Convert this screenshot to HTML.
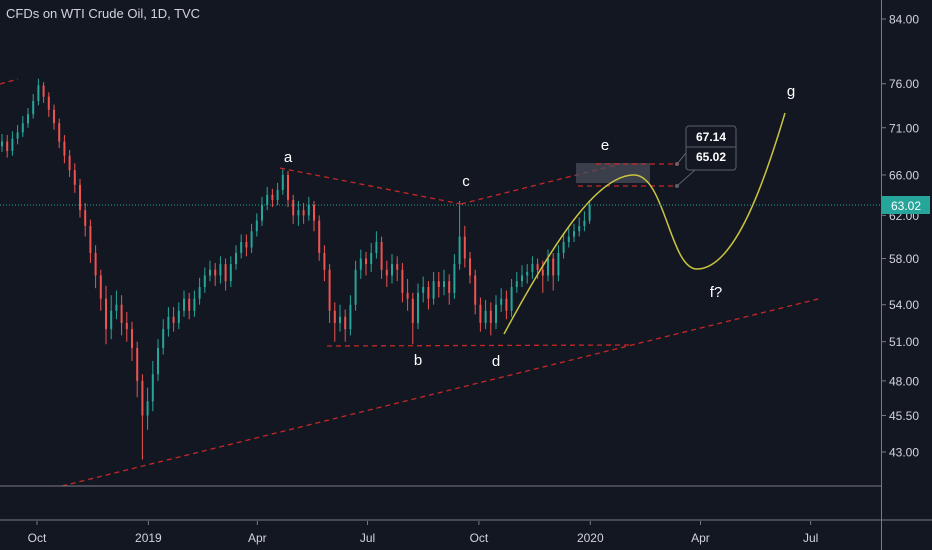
<!DOCTYPE html>
<html><head><meta charset="utf-8"><style>
html,body{margin:0;padding:0;background:#131722;}
svg{display:block;font-family:"Liberation Sans",sans-serif;}
</style></head><body>
<svg id="chart" width="932" height="550" viewBox="0 0 932 550">
<rect x="0" y="0" width="932" height="550" fill="#131722"/>
<g id="candles"></g>
<g id="drawings">
 <line x1="0" y1="84" x2="18" y2="79" stroke="#c62828" stroke-width="1.3" stroke-dasharray="5,4"/>
 <line x1="280" y1="168" x2="461" y2="204" stroke="#c62828" stroke-width="1.3" stroke-dasharray="5,4"/>
 <line x1="461" y1="204" x2="620" y2="164" stroke="#c62828" stroke-width="1.3" stroke-dasharray="5,4"/>
 <line x1="327" y1="346" x2="630" y2="345" stroke="#c62828" stroke-width="1.3" stroke-dasharray="5,4"/>
 <line x1="62" y1="486" x2="822" y2="298" stroke="#c62828" stroke-width="1.3" stroke-dasharray="5,4"/>
 <rect x="576" y="163" width="74" height="20" fill="#4a4e5a" opacity="0.75"/>
 <line x1="596" y1="164" x2="677" y2="164" stroke="#c62828" stroke-width="1.3" stroke-dasharray="5,4"/>
 <line x1="578" y1="186" x2="677" y2="186" stroke="#c62828" stroke-width="1.3" stroke-dasharray="5,4"/>
 <path d="M504,334 C560,230 600,175 634,175 C665,175 670,269 697,269 C735,269 765,180 785,113" fill="none" stroke="#c9c43f" stroke-width="1.5"/>
 <line x1="677" y1="164" x2="690" y2="148" stroke="#5d606b" stroke-width="1"/>
 <line x1="677" y1="186" x2="695" y2="170" stroke="#5d606b" stroke-width="1"/>
 <circle cx="677" cy="164" r="2" fill="#7a5a5a"/>
 <circle cx="677" cy="186" r="2" fill="#5d606b"/>
 <rect x="686" y="126" width="50" height="44" rx="3" fill="#131722" stroke="#5d606b"/>
 <line x1="686" y1="147" x2="736" y2="147" stroke="#5d606b"/>
 <text x="711" y="141" fill="#fff" font-size="12" font-weight="bold" text-anchor="middle">67.14</text>
 <text x="711" y="161" fill="#fff" font-size="12" font-weight="bold" text-anchor="middle">65.02</text>
 <g fill="#fff" font-size="15" text-anchor="middle">
  <text x="288" y="162">a</text>
  <text x="418" y="365">b</text>
  <text x="466" y="186">c</text>
  <text x="496" y="366">d</text>
  <text x="605" y="150">e</text>
  <text x="716" y="297">f?</text>
  <text x="791" y="96">g</text>
 </g>
</g>
<line x1="0" y1="205" x2="881" y2="205" stroke="#26a69a" stroke-width="1" stroke-dasharray="1,2"/>
<line x1="0" y1="486" x2="881" y2="486" stroke="#787b86" stroke-width="1"/>
<line x1="0" y1="520" x2="932" y2="520" stroke="#787b86" stroke-width="1"/>
<line x1="881.5" y1="0" x2="881.5" y2="550" stroke="#787b86" stroke-width="1"/>
<g id="yaxis"></g>
<g id="xaxis"></g>
<rect x="882" y="196" width="48" height="18" fill="#26a69a"/>
<text x="906" y="210" fill="#fff" font-size="12" text-anchor="middle">63.02</text>
<text x="6" y="18" fill="#d1d4dc" font-size="13">CFDs on WTI Crude Oil, 1D, TVC</text>
</svg>
<script>
const firstOpen = 69.0;
const closes = [69.5,68.5,69.8,70.5,71.5,72.5,74.0,75.8,74.5,73.0,71.5,69.5,68.0,66.5,65.0,62.5,61.0,58.5,56.5,54.5,52.0,53.5,54.0,52.5,52.0,50.5,48.0,45.5,46.5,48.5,50.5,52.0,53.0,52.5,53.5,54.5,53.5,54.5,55.5,56.5,57.0,56.5,57.5,56.0,57.5,58.5,59.5,59.0,60.5,61.5,63.0,64.0,63.5,64.5,66.0,63.5,62.0,62.5,62.0,63.0,61.5,58.5,57.0,53.5,52.5,53.0,52.0,54.0,57.0,58.0,57.5,58.5,59.5,57.0,56.5,57.5,57.0,55.0,54.5,52.5,55.0,55.5,54.5,56.0,55.5,56.0,55.0,57.5,60.0,58.0,56.5,54.0,52.5,53.5,52.5,54.0,54.5,53.5,55.5,56.0,56.5,56.8,57.5,57.0,56.5,58.0,56.5,58.5,59.5,60.0,60.5,61.0,61.5,63.0];
const highs = [70.3,70.2,70.6,71.3,72.3,73.2,74.8,76.6,76.2,75.0,73.6,72.0,70.2,68.6,67.2,65.6,63.2,61.6,59.2,57.0,55.6,54.8,55.2,54.8,53.4,52.6,51.0,48.5,47.5,49.5,51.2,52.8,53.8,53.8,54.2,55.2,55.0,55.2,56.3,57.2,57.8,57.6,58.2,58.0,58.2,59.2,60.2,60.2,61.2,62.2,63.8,64.8,64.6,65.2,66.6,66.4,64.0,63.4,63.2,63.8,63.4,62.0,59.2,57.5,54.2,54.0,53.6,54.8,57.8,58.8,58.6,59.4,60.5,60.0,57.8,58.4,58.2,57.6,56.2,55.0,55.8,56.4,56.0,56.8,56.8,57.0,56.6,58.4,63.4,61.0,58.6,57.0,54.6,54.4,54.2,54.8,55.4,55.2,56.2,56.8,57.4,57.5,58.2,58.0,57.8,58.8,58.5,59.2,60.2,60.8,61.2,61.8,62.4,63.5];
const lows = [68.4,67.8,68.0,69.2,70.0,71.0,72.0,73.5,73.8,72.2,70.8,68.8,67.2,65.8,64.2,61.8,60.0,57.6,55.4,53.5,50.8,51.2,52.8,51.5,51.0,49.5,46.8,42.5,44.5,45.8,48.0,50.0,51.4,51.8,52.0,53.0,52.8,53.0,54.0,55.0,56.0,55.6,55.8,55.2,55.5,57.0,58.0,58.2,58.5,60.0,61.0,62.5,62.8,63.0,64.0,62.8,61.2,61.0,61.2,61.5,60.5,57.8,56.0,52.5,51.0,51.8,51.0,51.5,53.5,56.2,56.5,56.8,58.0,56.2,55.5,55.8,56.0,54.2,53.5,50.8,52.0,54.2,53.6,54.0,54.6,54.8,54.0,54.5,57.0,57.2,55.8,53.2,51.8,52.0,51.5,52.0,53.4,52.8,53.0,55.0,55.5,55.8,56.2,56.2,55.0,56.0,55.2,56.0,58.0,59.0,59.5,60.0,60.5,61.2];
const priceTicks = [84,76,71,66,62,58,54,51,48,45.5,43];
const timeLabels = ["Oct","2019","Apr","Jul","Oct","2020","Apr","Jul"];
const timeDays = [0,92,182,273,365,457,548,639];

const NS = "http://www.w3.org/2000/svg";
function yScale(p){ return 2884 - 646.6*Math.log(p); }
function xBar(i){ return 1 + i*5.2; }
function xDay(d){ return 37 + d*1.2107; }

const cg = document.getElementById('candles');
for(let i=0;i<closes.length;i++){
  const o = i===0 ? firstOpen : closes[i-1];
  const c = closes[i];
  const col = c>=o ? '#26a69a' : '#ef5350';
  const x = xBar(i);
  const wick = document.createElementNS(NS,'line');
  
  
  wick.setAttribute('x1', x+1); wick.setAttribute('x2', x+1);
  wick.setAttribute('y1', yScale(highs[i])); wick.setAttribute('y2', yScale(lows[i]));
  wick.setAttribute('stroke', col); wick.setAttribute('stroke-width','1');
  cg.appendChild(wick);
  const body = document.createElementNS(NS,'rect');
  
  
  const y1 = yScale(Math.max(o,c)), y2 = yScale(Math.min(o,c));
  body.setAttribute('x', x); body.setAttribute('width', 2);
  body.setAttribute('y', y1); body.setAttribute('height', Math.max(1, y2-y1));
  body.setAttribute('fill', col);
  cg.appendChild(body);
}

const ya = document.getElementById('yaxis');
priceTicks.forEach(p=>{
  const y = yScale(p);
  const t = document.createElementNS(NS,'line');
  
  
  t.setAttribute('x1',882); t.setAttribute('x2',886); t.setAttribute('y1',y); t.setAttribute('y2',y);
  t.setAttribute('stroke','#787b86');
  ya.appendChild(t);
  const tx = document.createElementNS(NS,'text');
  
  
  tx.setAttribute('x',889); tx.setAttribute('y',y+4.5);
  tx.setAttribute('fill','#d1d4dc'); tx.setAttribute('font-size','12');
  tx.textContent = p.toFixed(2);
  ya.appendChild(tx);
});

const xa = document.getElementById('xaxis');
timeLabels.forEach((lab,i)=>{
  const x = xDay(timeDays[i]);
  const t = document.createElementNS(NS,'line');
  
  
  t.setAttribute('x1',x); t.setAttribute('x2',x); t.setAttribute('y1',521); t.setAttribute('y2',525);
  t.setAttribute('stroke','#787b86');
  xa.appendChild(t);
  const tx = document.createElementNS(NS,'text');
  
  
  tx.setAttribute('x',x); tx.setAttribute('y',542);
  tx.setAttribute('fill','#d1d4dc'); tx.setAttribute('font-size','12');
  tx.setAttribute('text-anchor','middle');
  tx.textContent = lab;
  xa.appendChild(tx);
});
</script>
</body></html>
